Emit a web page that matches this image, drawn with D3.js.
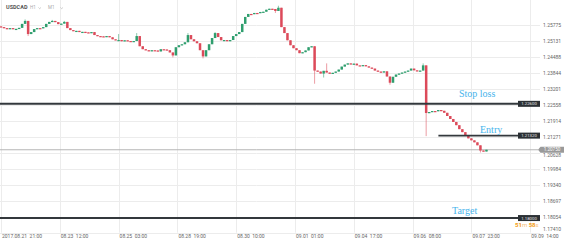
<!DOCTYPE html>
<html><head><meta charset="utf-8">
<script src="https://cdn.jsdelivr.net/npm/d3@7"></script>
<style>html,body{margin:0;padding:0;background:#fff;}svg{display:block;}</style>
</head><body>
<svg id="chart" width="570" height="244"></svg>
<script>
// ---- data ----
const symbol = "USDCAD";
const startOpen = 1.2572;
// 2-hour candle closes
const closes = [
1.2569,1.2565,1.2561,1.2565,1.2561,1.2562,1.2566,1.2582,1.2594,1.2541,
1.2549,1.2561,1.2565,1.2564,1.2569,1.2582,1.2590,1.2594,1.2589,1.2581,
1.2583,1.2590,1.2565,1.2557,1.2553,1.2554,1.2549,1.2550,1.2548,1.2545,
1.2549,1.2537,1.2533,1.2532,1.2529,1.2533,1.2528,1.2520,1.2516,1.2517,
1.2512,1.2516,1.2513,1.2512,1.2513,1.2533,1.2492,1.2480,1.2476,1.2472,
1.2476,1.2475,1.2471,1.2480,1.2479,1.2476,1.2467,1.2455,1.2488,1.2496,
1.2500,1.2508,1.2537,1.2520,1.2512,1.2504,1.2476,1.2451,1.2476,1.2500,
1.2525,1.2545,1.2529,1.2516,1.2517,1.2512,1.2517,1.2533,1.2541,1.2549,
1.2582,1.2610,1.2622,1.2621,1.2626,1.2625,1.2630,1.2631,1.2639,1.2643,
1.2642,1.2634,1.2647,1.2569,1.2545,1.2516,1.2496,1.2484,1.2476,1.2464,
1.2468,1.2475,1.2488,1.2492,1.2394,1.2390,1.2382,1.2393,1.2386,1.2381,
1.2385,1.2390,1.2398,1.2410,1.2418,1.2423,1.2419,1.2422,1.2415,1.2414,
1.2416,1.2411,1.2406,1.2402,1.2394,1.2390,1.2386,1.2391,1.2370,1.2345,
1.2369,1.2378,1.2382,1.2386,1.2390,1.2394,1.2402,1.2395,1.2391,1.2394,
1.2415,1.2223,1.2227,1.2231,1.2230,1.2235,1.2232,1.2224,1.2211,1.2199,
1.2187,1.2174,1.2158,1.2146,1.2134,1.2121,1.2113,1.2105,1.2093,1.2072,
1.2068,1.2075
];
// notable wicks: [candle index, high, low]
const wicks = [
[8,1.2600,null],[9,null,1.2533],[17,1.2598,null],[21,1.2594,null],
[39,1.2541,null],[45,1.2545,null],[57,null,1.2447],[62,1.2545,null],
[67,null,1.2443],[71,1.2549,null],[91,null,1.2626],[92,1.2655,null],
[104,null,1.2341],[107,null,1.2366],[108,1.2423,null],[129,null,1.2337],
[140,1.2423,null],[141,null,1.2130],[159,null,1.2064]
];
const hoursPerCandle = 2;
const tickHours = [0,39,78,117,156,195,234,273,312,351];
const tickLabels = ["2017.08.21  21:00","08.23  12:00","08.25  03:00","08.28  19:00","08.30  10:00",
                    "09.01  01:00","09.04  17:00","09.06  08:00","09.07  23:00","09.09  14:00"];
const yTicks = [1.25775,1.25131,1.24488,1.23844,1.23201,1.22558,1.21914,1.21271,1.20628,1.19984,1.19340,1.18697,1.18054,1.17410];
const levels = [
  {name:"Stop loss", value:1.22600, tag:"1.22600"},
  {name:"Entry",     value:1.21320, tag:"1.21320"},
  {name:"Target",    value:1.18000, tag:"1.18000"}
];
const currentPrice = 1.20750;
const countdown = ["51","m ","58","s"];

// ---- build candles ----
const candles = closes.map((c,i)=>{
  const o = i===0 ? startOpen : closes[i-1];
  return {i, o, c, h:Math.max(o,c), l:Math.min(o,c)};
});
wicks.forEach(([i,h,l])=>{ if(h!==null) candles[i].h=Math.max(candles[i].h,h); if(l!==null) candles[i].l=Math.min(candles[i].l,l); });

// ---- scales ----
const svg = d3.select("#chart");
const plotBottom = 232.7;
const x = d3.scaleLinear().domain([0,351]).range([1, 1+58.8*9]);
const y = d3.scaleLinear().domain([1.26782, 1.17410]).range([0, plotBottom]);

const green = "#2f9e6e", red = "#dc4a5a";

// grid
const g = svg.append("g");
g.selectAll("line.h").data(yTicks).join("line")
  .attr("x1",0).attr("x2",540).attr("y1",d=>Math.round(y(d))+0.5).attr("y2",d=>Math.round(y(d))+0.5)
  .attr("stroke","#ececec").attr("stroke-width",1);
g.selectAll("line.v").data(tickHours).join("line")
  .attr("x1",d=>Math.round(x(d))+0.5).attr("x2",d=>Math.round(x(d))+0.5)
  .attr("y1",0).attr("y2",plotBottom)
  .attr("stroke","#ececec").attr("stroke-width",1);

// current price line
svg.append("line").attr("x1",0).attr("x2",538).attr("y1",y(currentPrice)).attr("y2",y(currentPrice))
  .attr("stroke","#b5b5b5").attr("stroke-width",1);

// candles
const cg = svg.append("g");
cg.selectAll("line.w").data(candles).join("line")
  .attr("x1",d=>x(d.i*hoursPerCandle)).attr("x2",d=>x(d.i*hoursPerCandle))
  .attr("y1",d=>y(d.h)).attr("y2",d=>y(d.l))
  .attr("stroke",d=>d.c>=d.o?green:red).attr("stroke-width",1).attr("stroke-opacity",0.55);
cg.selectAll("rect").data(candles).join("rect")
  .attr("x",d=>x(d.i*hoursPerCandle)-1.25).attr("width",2.5)
  .attr("y",d=>y(Math.max(d.o,d.c)))
  .attr("height",d=>Math.max(1.2,Math.abs(y(d.o)-y(d.c))))
  .attr("fill",d=>d.c>=d.o?green:red);

// level lines
const lineStart = {"Stop loss":0, "Entry":x(312)-33, "Target":0};
const lg = svg.append("g");
lg.selectAll("line").data(levels).join("line")
  .attr("x1",d=>lineStart[d.name]).attr("x2",518)
  .attr("y1",d=>y(d.value)).attr("y2",d=>y(d.value))
  .attr("stroke","#33383c").attr("stroke-width",d=>d.name==="Entry"?1.6:2);
lg.selectAll("rect").data(levels).join("rect")
  .attr("x",518).attr("width",22).attr("y",d=>y(d.value)-3).attr("height",6)
  .attr("fill","#2b3034");
lg.selectAll("text.tag").data(levels).join("text").attr("class","tag")
  .attr("x",529).attr("y",d=>y(d.value)+1.6).attr("text-anchor","middle")
  .attr("font-family","Roboto, sans-serif").attr("font-size",4.3).attr("fill","#e8e8e8")
  .text(d=>d.tag);
const labelPos = {"Stop loss":[459,97], "Entry":[480,132.5], "Target":[452,213.5]};
lg.selectAll("text.name").data(levels).join("text").attr("class","name")
  .attr("x",d=>labelPos[d.name][0]).attr("y",d=>labelPos[d.name][1])
  .attr("font-family","'Liberation Serif', serif").attr("font-size",10).attr("fill","#47b4ec")
  .text(d=>d.name);

// right axis labels (the one under the price tag is nudged below it)
const cy = y(currentPrice);
svg.append("g").selectAll("text").data(yTicks).join("text")
  .attr("x",543).attr("y",d=>{
     let b = Math.min(y(d), 229)+1.8;
     if (Math.abs(y(d)-cy) < 6) b = cy+3+4.2;
     return b;})
  .attr("font-family","Roboto, sans-serif").attr("font-size",5).attr("fill","#666")
  .text(d=>d.toFixed(5));

// current price tag
svg.append("path")
  .attr("d",`M538,${cy} L540.5,${cy-3} L564,${cy-3} L564,${cy+3} L540.5,${cy+3} Z`)
  .attr("fill","#9a9a9a");
svg.append("text").attr("x",552).attr("y",cy+1.7).attr("text-anchor","middle")
  .attr("font-family","Roboto, sans-serif").attr("font-size",4.6).attr("fill","#fff")
  .text(currentPrice.toFixed(5));

// countdown
const ct = svg.append("text").attr("x",515).attr("y",227.3)
  .attr("font-family","Roboto, sans-serif").attr("font-size",6).attr("fill","#f5a623").attr("xml:space","preserve");
countdown.forEach((s,i)=>ct.append("tspan").attr("font-weight",i%2===0?"bold":"normal")
  .attr("fill",i%2===0?"#f39c12":"#f7c27a").text(s));

// bottom axis labels
svg.append("g").selectAll("text").data(tickLabels).join("text")
  .attr("x",(d,i)=>x(tickHours[i])+1).attr("y",237.8)
  .attr("font-family","Roboto, sans-serif").attr("font-size",5).attr("fill","#666")
  .style("white-space","pre")
  .text(d=>d);

// header
svg.append("text").attr("x",6).attr("y",9.3).attr("font-family","Roboto, sans-serif")
  .attr("font-size",5.5).attr("font-weight","bold").attr("fill","#555").text(symbol);
svg.append("text").attr("x",30).attr("y",9.3).attr("font-family","Roboto, sans-serif")
  .attr("font-size",4.5).attr("fill","#aaa").text("H1");
svg.append("text").attr("x",48).attr("y",9.3).attr("font-family","Roboto, sans-serif")
  .attr("font-size",4.5).attr("fill","#aaa").text("M1");
[[38.5,7.5],[60.5,7.5]].forEach(([px,py])=>svg.append("path")
  .attr("d",`M${px},${py} l1.2,1.2 l1.2,-1.2`).attr("fill","none").attr("stroke","#aaa").attr("stroke-width",0.6));
</script>
</body></html>
